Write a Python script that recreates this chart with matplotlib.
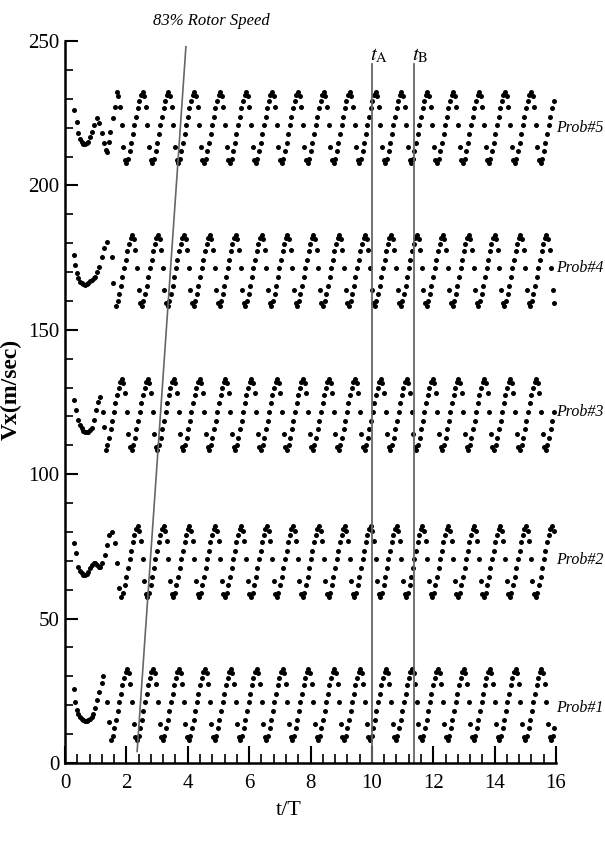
import numpy as np
import matplotlib
matplotlib.use('Agg')
import matplotlib.pyplot as plt
from matplotlib.ticker import MultipleLocator

plt.rcParams['font.family'] = 'Liberation Serif'
plt.rcParams['mathtext.fontset'] = 'stix'

period = 0.8437
cycle_vals = [8.0, 9.5, 12.0, 15.0, 18.0, 21.0, 24.0, 27.0, 29.5, 31.5,
              32.5, 31.0, 27.5, 21.0, 13.5, 9.0]
t_end = 15.97

probe_names = ['Prob#1', 'Prob#2', 'Prob#3', 'Prob#4', 'Prob#5']
probe_offsets = [0.0, 49.5, 100.5, 150.3, 199.8]
reg_t0 = [1.50, 1.84, 1.326, 1.66, 2.00]   # first regular minimum
reg_k0 = [0, 0, 0, 0, -6]                  # start sample relative to it
label_y = [19, 70.3, 121.5, 171.4, 220]

# start-up transient of each probe
p1_t = [0.29, 0.33, 0.38, 0.43, 0.49, 0.55, 0.60, 0.66, 0.71, 0.76, 0.81,
        0.87, 0.92, 0.98, 1.05, 1.12, 1.19, 1.25, 1.36, 1.44]
p1_v = [25.5, 21.2, 18.4, 17.0, 16.0, 15.3, 15.0, 14.7, 14.7, 14.8, 15.1,
        15.8, 16.8, 18.9, 21.8, 24.7, 27.6, 30.1, 21.2, 14.3]
p2_t = [0.29, 0.36, 0.43, 0.49, 0.54, 0.60, 0.65, 0.71, 0.76, 0.82, 0.87,
        0.93, 0.98, 1.05, 1.10, 1.14, 1.19, 1.30, 1.36, 1.44, 1.52, 1.63,
        1.70, 1.77]
p2_v = [76.1, 72.6, 68.0, 66.5, 65.7, 65.2, 65.1, 65.5, 66.2, 67.4, 68.6,
        69.3, 69.4, 68.6, 68.0, 68.0, 69.1, 72.0, 75.5, 79.0, 80.1, 76.1,
        69.1, 60.5]
p3_t = [0.29, 0.36, 0.43, 0.49, 0.54, 0.60, 0.65, 0.71, 0.76, 0.82, 0.87,
        0.94, 1.01, 1.09, 1.14, 1.23, 1.28]
p3_v = [125.7, 122.2, 118.8, 117.0, 115.9, 115.0, 114.7, 114.6, 114.7,
        115.2, 115.9, 118.8, 122.2, 125.1, 126.8, 121.6, 116.4]
p4_t = [0.29, 0.33, 0.38, 0.43, 0.49, 0.54, 0.60, 0.65, 0.71, 0.76, 0.82,
        0.87, 0.93, 0.98, 1.05, 1.12, 1.19, 1.27, 1.36, 1.52, 1.57]
p4_v = [175.9, 172.4, 169.8, 167.8, 166.6, 166.1, 165.7, 165.5, 165.8,
        166.3, 166.8, 167.2, 167.8, 168.4, 170.1, 171.9, 175.3, 178.2,
        180.5, 175.3, 166.1]
p5_t = [0.29, 0.38, 0.43, 0.49, 0.54, 0.60, 0.65, 0.71, 0.76, 0.82, 0.87,
        0.96, 1.03, 1.10, 1.19, 1.27, 1.34, 1.36, 1.42, 1.47, 1.55, 1.63]
p5_v = [226.1, 222.1, 218.0, 216.2, 215.1, 214.5, 214.3, 214.6, 215.1,
        216.8, 218.6, 220.9, 223.2, 221.5, 218.0, 214.6, 212.3, 211.7,
        215.0, 218.6, 223.2, 227.2]
trans_t = [p1_t, p2_t, p3_t, p4_t, p5_t]
trans_v = [p1_v, p2_v, p3_v, p4_v, p5_v]

# reference lines
tA, tB = 10.02, 11.38
rotor_t = [2.35, 3.94]
rotor_v = [4, 248]

fig = plt.figure(figsize=(6.05, 8.43), dpi=100)
ax = fig.add_axes([65 / 605, 1 - 763 / 843, 491 / 605, 722 / 843])

n = len(cycle_vals)
dt = period / n
for i in range(5):
    k = np.arange(reg_k0[i], int((t_end - reg_t0[i]) / dt) + 1)
    t_reg = reg_t0[i] + k * dt
    v_reg = np.array(cycle_vals)[k % n] + probe_offsets[i]
    t_all = np.concatenate([trans_t[i], t_reg])
    v_all = np.concatenate([trans_v[i], v_reg])
    ax.plot(t_all, v_all, 'o', color='black', markersize=3.6, mew=0)
    ax.text(16.0, label_y[i], probe_names[i], fontsize=11.5, style='italic',
            ha='left', va='center', clip_on=False)

ax.plot([tA, tA], [0, 242], color='0.4', lw=1.3)
ax.plot([tB, tB], [0, 242], color='0.4', lw=1.3)
ax.plot(rotor_t, rotor_v, color='0.4', lw=1.2)
ax.text(9.95, 241.5, r'$t_{\rm A}$', fontsize=15, ha='left', va='bottom')
ax.text(11.32, 241.5, r'$t_{\rm B}$', fontsize=15, ha='left', va='bottom')
ax.text(4.76, 257, '83% Rotor Speed', fontsize=12, style='italic',
        ha='center', va='center', clip_on=False)

ax.set_xlim(0, 16)
ax.set_ylim(0, 250)
ax.xaxis.set_major_locator(MultipleLocator(2))
ax.xaxis.set_minor_locator(MultipleLocator(0.4))
ax.yaxis.set_major_locator(MultipleLocator(50))
ax.yaxis.set_minor_locator(MultipleLocator(10))
ax.tick_params(axis='x', which='major', direction='in', length=12, width=1.5,
               labelsize=15, pad=8)
ax.tick_params(axis='x', which='minor', direction='in', length=6.5, width=1.2)
ax.tick_params(axis='y', which='major', direction='in', length=9.5, width=1.5,
               labelsize=15, pad=4)
ax.tick_params(axis='y', which='minor', direction='in', length=6, width=1.2)
for s in ['top', 'right']:
    ax.spines[s].set_visible(False)
for s in ['left', 'bottom']:
    ax.spines[s].set_linewidth(1.8)

ax.set_xlabel('t/T', fontsize=16)
ax.xaxis.set_label_coords(0.456, -0.053)
ax.set_ylabel('Vx(m/sec)', fontsize=17, fontweight='bold')
ax.yaxis.set_label_coords(-0.088, 0.517)

fig.savefig('out.png', dpi=100)
